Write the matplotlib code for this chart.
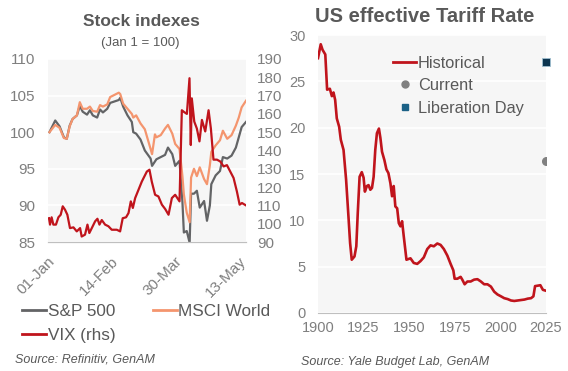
import matplotlib
matplotlib.use("Agg")
import matplotlib.pyplot as plt
from matplotlib.lines import Line2D
import numpy as np

plt.rcParams['font.family'] = ['Liberation Sans', 'DejaVu Sans']

# ---- left chart: stock indexes, days since 1 Jan 2025 ----
idx_days = [1, 5, 8, 11, 13, 15, 17, 20, 22, 24, 27, 29, 31, 34, 36, 38, 41, 43,
            46, 49, 50, 52, 55, 58, 59, 61, 64, 67, 71, 72, 74, 75, 78, 81, 83, 86,
            88, 91, 93, 94, 96, 98, 99, 101, 103, 105, 108, 110, 112, 113, 116,
            119, 121, 124, 127, 130, 132, 134, 137]
spx = [100.0, 101.6, 100.8, 99.3, 99.1, 100.9, 101.8, 102.3, 103.6, 102.8, 102.4,
       103.0, 102.3, 102.0, 103.1, 102.7, 103.2, 104.0, 104.2, 104.4, 104.7, 103.5,
       102.3, 101.4, 100.0, 99.8, 99.0, 97.5, 96.4, 95.4, 96.0, 96.3, 96.6, 96.9,
       97.9, 97.0, 95.4, 96.1, 90.5, 86.3, 86.5, 84.9, 91.6, 91.6, 92.0, 89.7, 90.6,
       87.9, 90.0, 92.9, 94.1, 94.7, 96.6, 96.4, 96.8, 97.9, 99.3, 100.7, 101.4]
msci = [100.0, 101.0, 100.6, 99.2, 99.1, 100.8, 101.8, 102.3, 104.1, 103.2, 103.2,
        103.5, 102.9, 102.8, 103.7, 103.5, 103.8, 104.8, 105.1, 105.4, 105.2, 103.9,
        103.2, 102.5, 102.0, 102.3, 101.2, 100.4, 97.7, 97.0, 99.7, 99.3, 99.6, 100.5,
        101.0, 99.8, 98.4, 97.7, 94.0, 91.5, 89.0, 87.7, 93.8, 95.0, 94.0, 95.2, 93.6,
        92.9, 95.5, 97.3, 98.2, 98.9, 100.2, 99.1, 99.6, 100.9, 102.0, 103.4, 104.3]

vix_days = [0.7, 1.4, 2.5, 3.7, 5.5, 7.2, 8.8, 10.2, 11.8, 13.4, 15.2, 17.6, 19.9,
            22.2, 23.3, 25.6, 27.3, 28.6, 30.3, 32.6, 34.2, 35.6, 37.2, 39.5, 41.8,
            44.1, 47.6, 49.9, 51.7, 54.0, 55.7, 57.3, 58.7, 60.3, 62.6, 64.9, 66.1,
            68.4, 70.2, 71.8, 74.1, 76.4, 78.8, 81.1, 83.4, 85.7, 88.0, 91.0, 92.6,
            94.2, 96.1, 97.9, 98.8, 99.5, 101.2, 103.0, 104.8, 106.5, 108.8, 111.1,
            112.7, 114.5, 116.9, 119.2, 121.5, 123.8, 126.1, 128.4, 130.7, 132.6,
            134.2, 137.0]
vix = [103, 99.5, 103.5, 99.5, 99.5, 103.5, 104.9, 109.5, 107.6, 104.9, 97.6, 98,
       95.8, 97.6, 93, 94, 99.5, 94.9, 97.6, 101.3, 102.7, 99.5, 102, 99.5, 98.6,
       96.7, 96.7, 95.8, 103, 103.5, 105.8, 112.2, 108.6, 114, 118.5, 123, 124.9,
       128.5, 129.5, 123, 115.8, 114.9, 110.4, 108, 104.9, 114, 115.8, 112.2, 162,
       161, 160, 179.5, 143, 168.5, 155.8, 152, 145, 156.7, 150.4, 162, 152, 135,
       135, 134, 131.3, 132, 128.5, 125, 117.6, 110.4, 111.3, 110]

date_ticks = [0, 44, 88, 132]
date_labels = ['01-Jan', '14-Feb', '30-Mar', '13-May']

# ---- right chart: US effective tariff rate ----
years = [1900, 1901.5, 1902.5, 1904, 1905, 1906.5, 1907.6, 1908.5, 1909.4, 1910.3,
         1911.6, 1912.5, 1914, 1915.4, 1916.7, 1917.6, 1918.5, 1920, 1921, 1921.8,
         1922.8, 1924, 1925, 1925.7, 1926.8, 1927.7, 1928.7, 1929.6, 1930.5, 1931.4,
         1932.3, 1933.4, 1934.2, 1935.1, 1936.4, 1937.5, 1938.6, 1939.7, 1940.6,
         1941.5, 1942.4, 1943.4, 1944.3, 1945.2, 1946.1, 1947, 1948.5, 1950.7, 1952.5,
         1954.4, 1956.2, 1958, 1959.9, 1961.7, 1963.5, 1965.4, 1967.2, 1969, 1970.9,
         1972.7, 1974.2, 1974.9, 1976.4, 1978.2, 1979.1, 1980.4, 1981.9, 1983.7,
         1985.6, 1987.4, 1989.3, 1991.1, 1992.9, 1994.8, 1996.6, 1998.4, 2000.3,
         2002.1, 2004, 2005.8, 2007.6, 2009.5, 2011.3, 2013.2, 2015, 2016.8, 2018.1,
         2019, 2020.5, 2021.9, 2023.3, 2025]
tariff = [27.5, 29.0, 28.4, 27.9, 24.1, 24.2, 23.4, 23.8, 23.0, 21.0, 20.1, 18.7,
          17.6, 14.4, 10.4, 7.55, 5.75, 6.1, 7.2, 10.8, 14.7, 15.2, 14.6, 13.1, 13.7,
          13.8, 13.3, 13.5, 14.7, 17.6, 19.4, 19.9, 18.9, 17.4, 16.5, 15.5, 15.1, 14.0,
          12.6, 13.7, 11.5, 11.3, 9.7, 9.35, 9.9, 8.3, 5.75, 5.9, 5.4, 5.3, 5.6, 6.0,
          6.9, 7.3, 7.2, 7.5, 7.35, 6.9, 6.2, 5.3, 4.6, 3.7, 3.7, 3.9, 3.6, 3.1, 3.4,
          3.4, 3.6, 3.65, 3.4, 3.1, 3.1, 2.85, 2.3, 2.0, 1.8, 1.6, 1.5, 1.35, 1.3, 1.35,
          1.4, 1.45, 1.55, 1.6, 1.8, 2.9, 2.95, 3.0, 2.5, 2.4]
current_year, current_rate = 2025, 16.4
liberation_year, liberation_rate = 2025, 27.1

GREY_TXT = '#595959'
TICK_TXT = '#7f7f7f'
BG = '#f6f6f6'

fig = plt.figure(figsize=(5.68, 3.71), dpi=100)

# left panel
ax = fig.add_axes([48/568, 1-242/371, 198/568, 183/371])
ax.set_facecolor(BG)
ax.plot(idx_days, spx, color='#636466', lw=1.6)
ax.plot(idx_days, msci, color='#f4956e', lw=1.6)
ax.set_ylim(85, 110)
ax.set_yticks(range(85, 111, 5))
ax.set_xlim(0, 137)
ax.set_xticks(date_ticks)
ax.set_xticklabels(date_labels, rotation=45, ha='right', rotation_mode='anchor')
ax.grid(axis='y', color='white', lw=1.2)
ax.set_axisbelow(True)
ax2 = ax.twinx()
ax2.plot(vix_days, vix, color='#c0141c', lw=1.6)
ax2.set_ylim(90, 190)
ax2.set_yticks(range(90, 191, 10))
for a in (ax, ax2):
    for s in ('top', 'left', 'right'):
        a.spines[s].set_visible(False)
    a.spines['bottom'].set_color('#bfbfbf')
    a.tick_params(length=0, labelsize=11, labelcolor=TICK_TXT)
ax.tick_params(axis='y', pad=9)
ax.tick_params(axis='x', pad=9)
ax2.tick_params(axis='y', pad=8)

fig.text(141/568, 1-22/371, 'Stock indexes', ha='center', va='center',
         fontsize=12.5, fontweight='bold', color=GREY_TXT)
fig.text(140/568, 1-43/371, '(Jan 1 = 100)', ha='center', va='center',
         fontsize=9.5, color=GREY_TXT)

h_spx = Line2D([], [], color='#636466', lw=2)
h_msci = Line2D([], [], color='#f4956e', lw=2)
h_vix = Line2D([], [], color='#c0141c', lw=2)
fig.legend([h_spx, h_vix, h_msci], ['S&P 500', 'VIX (rhs)', 'MSCI World'], ncol=2,
           loc='upper left', bbox_to_anchor=(22/568, 1-304/371), frameon=False,
           fontsize=12.3, handlelength=1.4, handletextpad=0.1, columnspacing=2.2,
           labelspacing=0.5, labelcolor=GREY_TXT, borderaxespad=0, borderpad=0)
fig.text(15/568, 1-360/371, 'Source: Refinitiv, GenAM', ha='left', va='center',
         fontsize=9, style='italic', color=GREY_TXT)

# right panel
bx = fig.add_axes([318/568, 1-313/371, 228/568, 278/371])
bx.set_facecolor(BG)
bx.plot(years, tariff, color='#c0141c', lw=1.9, label='Historical')
bx.plot([current_year], [current_rate], 'o', color='#808080', ms=5.5)
bx.plot([liberation_year], [liberation_rate], 's', color='#0d3550', mec='#9fbfd0',
        mew=0.6, ms=5.5, clip_on=False)
bx.set_xlim(1900, 2025)
bx.set_ylim(0, 30)
bx.set_xticks(range(1900, 2026, 25))
bx.set_yticks(range(0, 31, 5))
bx.grid(axis='y', color='white', lw=1.2)
bx.set_axisbelow(True)
for s in ('top', 'left', 'right'):
    bx.spines[s].set_visible(False)
bx.spines['bottom'].set_color('#bfbfbf')
bx.tick_params(length=0, labelsize=10.5, labelcolor=TICK_TXT)
bx.tick_params(axis='y', pad=9)
bx.tick_params(axis='x', pad=6)
fig.text(425/568, 1-17/371, 'US effective Tariff Rate', ha='center', va='center',
         fontsize=14.5, fontweight='bold', color=GREY_TXT)

leg_h = [Line2D([], [], color='#c0141c', lw=2),
         Line2D([], [], ls='none', marker='o', color='#808080', ms=5),
         Line2D([], [], ls='none', marker='s', color='#1b6186', ms=5)]
bx.legend(leg_h, ['Historical', 'Current', 'Liberation Day'], loc='upper left',
          bbox_to_anchor=(0.33, 0.925), frameon=False, fontsize=11.8,
          handlelength=1.4, handletextpad=0.1, labelspacing=0.45,
          labelcolor=GREY_TXT, borderaxespad=0, borderpad=0)
fig.text(301/568, 1-362/371, 'Source: Yale Budget Lab, GenAM', ha='left',
         va='center', fontsize=9, style='italic', color=GREY_TXT)

fig.savefig('out.png', dpi=100, facecolor='white')
